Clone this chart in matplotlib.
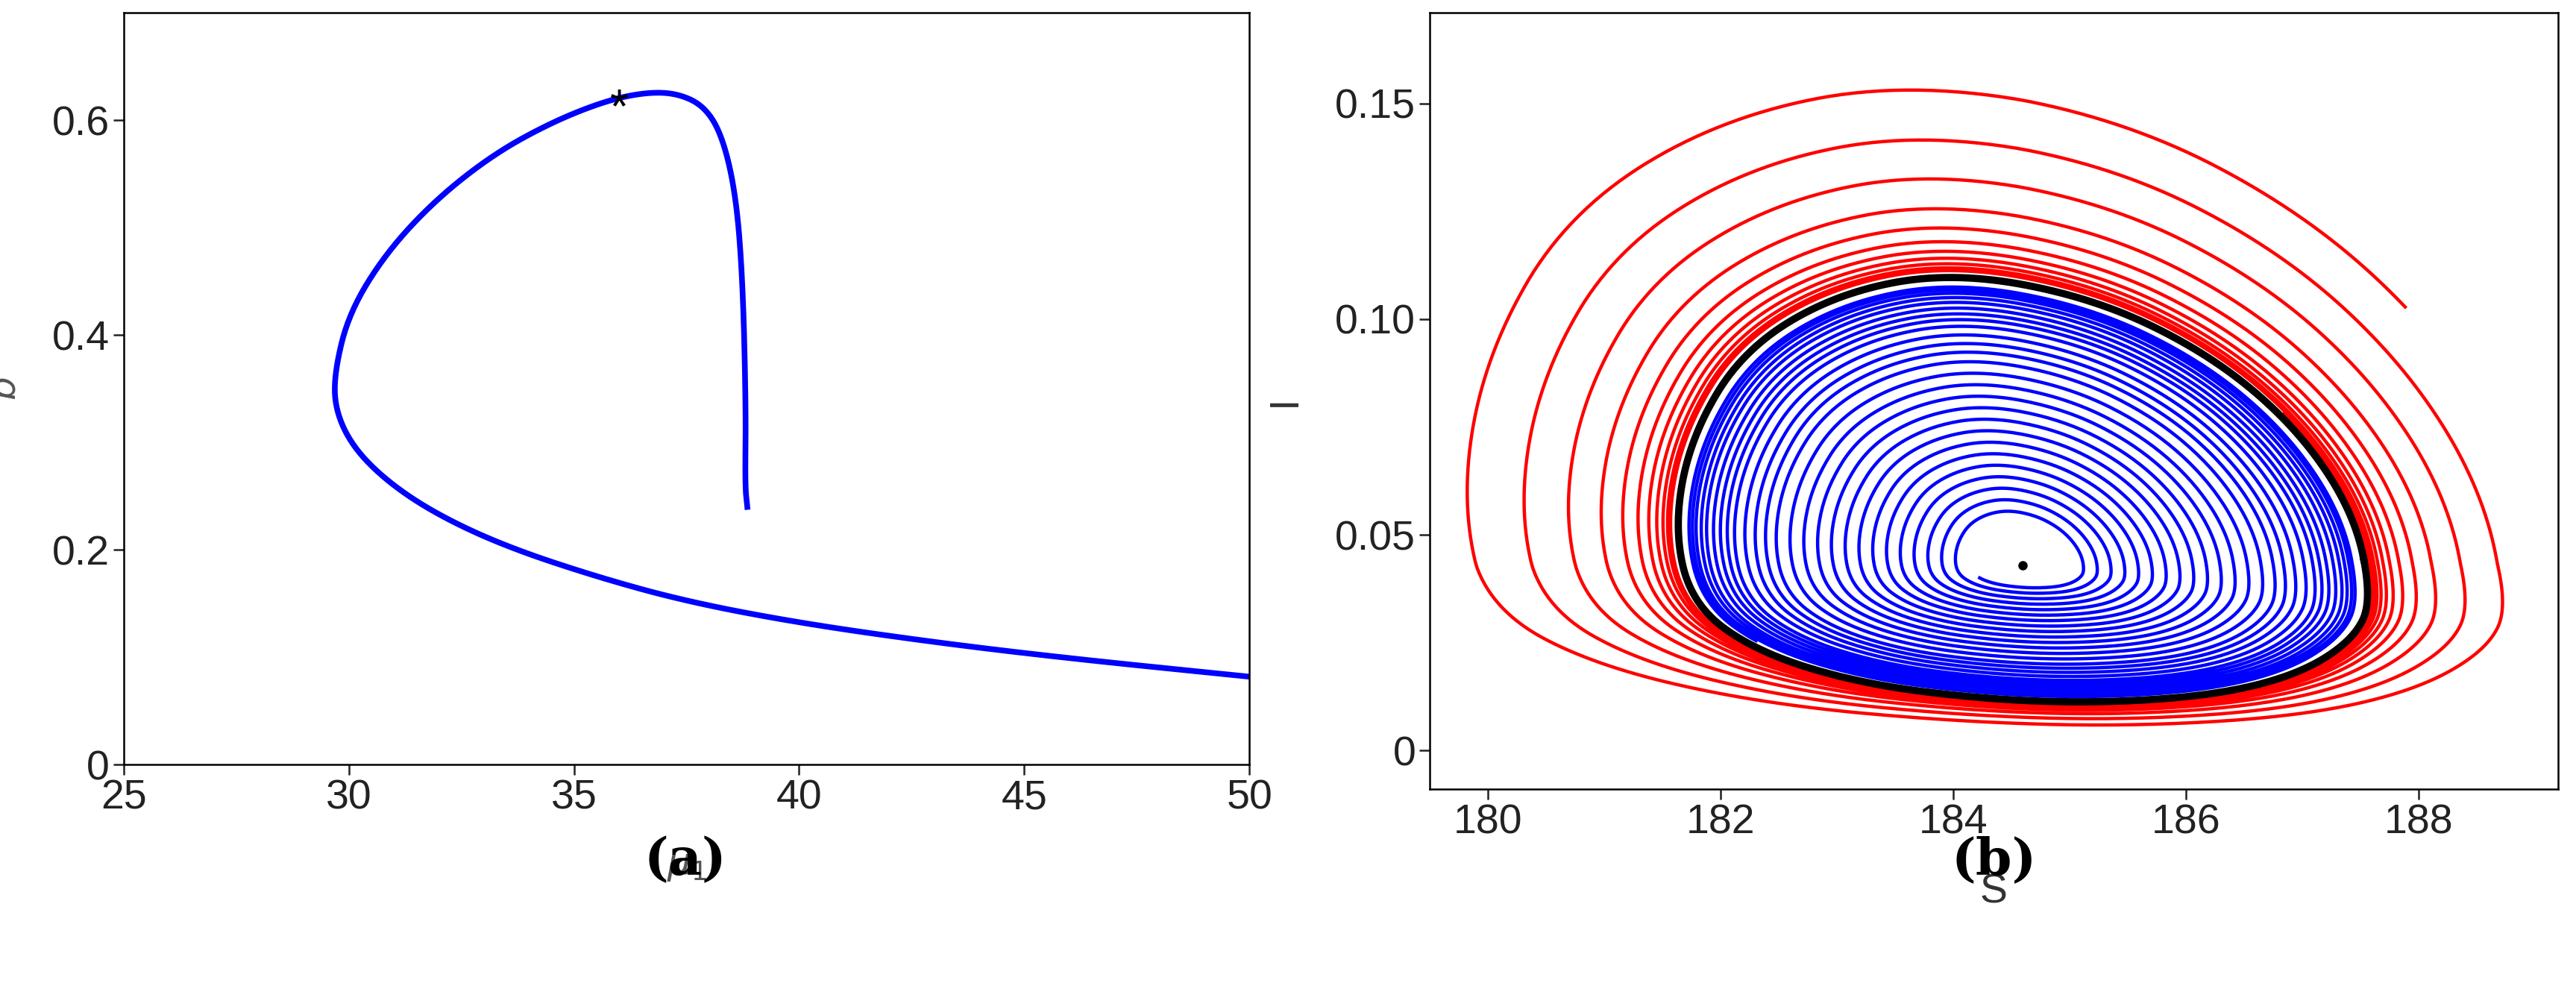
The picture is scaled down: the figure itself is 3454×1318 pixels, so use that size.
import numpy as np
import matplotlib
matplotlib.use("Agg")
import matplotlib.pyplot as plt

# Panel (a) bifurcation curve
mu1 = [38.85, 38.8, 38.82, 38.75, 38.6, 38.3, 37.9, 37.3, 36.6, 35.7, 34.5, 33.2, 31.9, 30.8, 30.0, 29.68, 29.7, 30.1, 30.9, 32.0, 33.5, 35.5, 37.5, 40.0, 43.0, 46.0, 50.0]
bval = [0.24, 0.26, 0.33, 0.45, 0.53, 0.585, 0.613, 0.625, 0.626, 0.618, 0.598, 0.568, 0.525, 0.475, 0.42, 0.365, 0.33, 0.295, 0.262, 0.232, 0.203, 0.175, 0.152, 0.132, 0.114, 0.099, 0.082]
star_pt = (36.0, 0.61)

# Panel (b) phase portrait
eq_pt = (184.6, 0.043)
cycle_S = [187.6, 187.45, 186.95, 186.2, 185.2, 184.0, 183.0, 182.2, 181.75, 181.6, 181.75, 182.3, 183.2, 184.3, 185.3, 186.3, 187.0, 187.45]
cycle_I = [0.035, 0.055, 0.075, 0.092, 0.105, 0.111, 0.106, 0.093, 0.073, 0.052, 0.034, 0.023, 0.0155, 0.0118, 0.011, 0.013, 0.018, 0.026]
blue_scales = [0.16, 0.2, 0.24, 0.28, 0.32, 0.36, 0.40, 0.44, 0.48, 0.52, 0.56, 0.60, 0.64, 0.68, 0.72, 0.75, 0.78, 0.81, 0.84, 0.86, 0.88, 0.90, 0.92, 0.935, 0.95, 0.96, 0.97]
red_scales = [1.68, 1.5, 1.36, 1.25, 1.18, 1.13, 1.095, 1.07, 1.05, 1.035, 1.025, 1.018]

plt.rcParams["font.family"] = "Liberation Sans"
fig = plt.figure(figsize=(34.54, 13.18), dpi=100)
ax1 = fig.add_axes([0.048, 0.222, 0.437, 0.765])
ax2 = fig.add_axes([0.555, 0.197, 0.438, 0.79])

def smooth(x, y, n=4, closed=True):
    p = np.column_stack([x, y]).astype(float)
    p[:, 1] *= 100
    for _ in range(n):
        if closed:
            q = np.roll(p, -1, axis=0)
            r = np.empty((2*len(p), 2))
            r[0::2] = 0.75*p + 0.25*q
            r[1::2] = 0.25*p + 0.75*q
        else:
            a, b = p[:-1], p[1:]
            r = np.empty((2*len(a), 2))
            r[0::2] = 0.75*a + 0.25*b
            r[1::2] = 0.25*a + 0.75*b
            r = np.vstack([p[:1], r, p[-1:]])
        p = r
    p[:, 1] /= 100
    return p

ca = smooth(mu1, bval, closed=False)
ax1.plot(ca[:, 0], ca[:, 1], color="#0000ff", lw=5.5)
ax1.text(star_pt[0], star_pt[1], "*", fontsize=46, ha="center", va="center")
ax1.set_xlim(25, 50); ax1.set_ylim(0, 0.7)
ax1.set_xticks([25, 30, 35, 40, 45, 50]); ax1.set_yticks([0, 0.2, 0.4, 0.6])
ax1.set_yticklabels(["0", "0.2", "0.4", "0.6"])
ax1.set_xlabel(r"$\mu_1$", fontsize=36, color="#555555", labelpad=30)
ax1.set_ylabel(r"$b$", fontsize=36, color="#555555", labelpad=28)

cyc = smooth(cycle_S, cycle_I)
dx = cyc[:, 0] - eq_pt[0]
dy = cyc[:, 1] - eq_pt[1]
N = len(cyc)

def spiral(scales, start_idx):
    xs, ys = [], []
    for k in range(len(scales) - 1):
        for j in range(N):
            t = j / N
            s = scales[k] + (scales[k+1] - scales[k]) * t
            idx = (start_idx + j) % N
            sy = s if (dy[idx] > 0 or s < 1) else 1 + (s - 1) * 0.3
            sx = s if s < 1 else (s if dx[idx] < 0 else 1 + (s - 1) * 0.75)
            xs.append(eq_pt[0] + sx * dx[idx])
            ys.append(eq_pt[1] + sy * dy[idx])
    return xs, ys

bx, by = spiral(blue_scales, int(N * 0.58))
ax2.plot(bx, by, color="#0000ff", lw=3.2)
rx, ry = spiral(red_scales, int(N * 0.10))
ax2.plot(rx, ry, color="#ff0000", lw=3.2)
ax2.plot(np.append(cyc[:, 0], cyc[0, 0]), np.append(cyc[:, 1], cyc[0, 1]), color="black", lw=7)
ax2.plot([eq_pt[0]], [eq_pt[1]], "o", color="black", ms=8)
ax2.set_xlim(179.5, 189.2); ax2.set_ylim(-0.009, 0.171)
ax2.set_xticks([180, 182, 184, 186, 188]); ax2.set_yticks([0, 0.05, 0.10, 0.15])
ax2.set_yticklabels(["0", "0.05", "0.10", "0.15"])
ax2.set_xlabel("S", fontsize=40, color="#333333", labelpad=30)
ax2.set_ylabel("I", fontsize=40, color="#333333", labelpad=30)

for ax in (ax1, ax2):
    ax.tick_params(labelsize=40, length=10, width=1.8, direction="out", colors="#222222")
    for sp in ax.spines.values():
        sp.set_linewidth(1.8)

fig.text(0.266, 0.125, "(a)", fontsize=50, fontweight="bold", fontfamily="DejaVu Serif", ha="center", va="center")
fig.text(0.774, 0.125, "(b)", fontsize=50, fontweight="bold", fontfamily="DejaVu Serif", ha="center", va="center")
fig.savefig("out.png", dpi=100)
